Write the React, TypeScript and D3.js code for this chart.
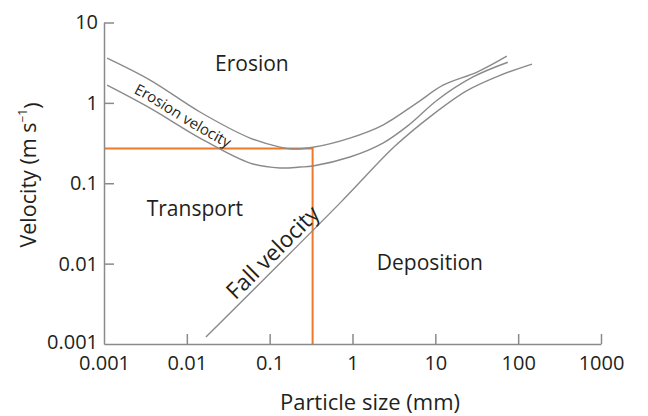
import React, { useEffect, useRef } from 'react';
import * as d3 from 'd3';

// particle size (mm) / velocity (m s-1)
const xTicks = [0.001, 0.01, 0.1, 1, 10, 100, 1000];
const xTickLabels = ['0.001', '0.01', '0.1', '1', '10', '100', '1000'];
const yTicks = [0.001, 0.01, 0.1, 1, 10];
const yTickLabels = ['0.001', '0.01', '0.1', '1', '10'];

const erosionUpper: [number, number][] = [
  [0.00109, 3.6], [0.0036, 1.92], [0.0144, 0.77], [0.058, 0.365], [0.133, 0.282],
  [0.2, 0.266], [0.333, 0.28], [0.93, 0.365], [2.33, 0.53], [6.0, 1.0],
  [12.4, 1.66], [31.9, 2.42], [73, 3.82],
];
const erosionLower: [number, number][] = [
  [0.00109, 1.66], [0.0036, 0.86], [0.0144, 0.365], [0.058, 0.178], [0.133, 0.155],
  [0.232, 0.159], [0.333, 0.164], [0.93, 0.212], [2.33, 0.316], [4.94, 0.545],
  [10.5, 1.08], [28.5, 2.1], [75, 3.2],
];
const fallVelocity: [number, number][] = [
  [0.017, 0.00122], [0.71, 0.057], [3.26, 0.29], [9.4, 0.72], [24.1, 1.42],
  [60.4, 2.2], [147, 3.04],
];
const criticalSize = 0.33;
const criticalVelocity = 0.27;

const W = 648, H = 416;
const FONT = '"Open Sans", "DejaVu Sans", sans-serif';
const INK = '#231f20';
const GREY = '#8a8a8a';
const ORANGE = '#ec7a2a';

function App() {
  const ref = useRef<SVGSVGElement | null>(null);

  useEffect(() => {
    const svg = d3.select(ref.current);
    svg.selectAll('*').remove();

    const x = d3.scaleLog().domain([0.001, 1000]).range([104, 601]);
    const y = d3.scaleLog().domain([0.001, 10]).range([344, 22.5]);

    const line = d3.line<[number, number]>()
      .x(d => x(d[0])).y(d => y(d[1]))
      .curve(d3.curveCatmullRom.alpha(0.5));

    // orange reading lines
    svg.append('path')
      .attr('d', `M${x(0.001)},${y(criticalVelocity)}H${x(criticalSize)}V${y(0.001)}`)
      .attr('fill', 'none').attr('stroke', ORANGE).attr('stroke-width', 2);

    // curves
    const curves = [
      { id: 'upper', data: erosionUpper },
      { id: 'lower', data: erosionLower },
      { id: 'fall', data: fallVelocity },
    ];
    curves.forEach(c => {
      svg.append('path')
        .attr('id', 'curve-' + c.id)
        .attr('d', line(c.data) as string)
        .attr('fill', 'none').attr('stroke', GREY).attr('stroke-width', 1.4);
    });

    // midline between the two erosion curves, used to set the label
    const mid: [number, number][] = erosionUpper.slice(0, 6).map((d, i) => [d[0], Math.sqrt(d[1] * erosionLower[i][1])]);
    svg.append('path').attr('id', 'erosion-mid').attr('d', line(mid) as string).attr('fill', 'none');

    svg.append('text')
      .style('font-family', FONT).style('font-size', '15px').attr('fill', INK)
      .attr('dy', '0.45em')
      .append('textPath').attr('href', '#erosion-mid').attr('startOffset', 33)
      .text('Erosion velocity');

    svg.append('text')
      .style('font-family', FONT).style('font-size', '22.5px').attr('fill', INK)
      .attr('dy', -5)
      .append('textPath').attr('href', '#curve-fall').attr('startOffset', 47)
      .text('Fall velocity');

    // axes
    const xAxis = svg.append('g')
      .attr('transform', `translate(0,${y(0.001)})`)
      .call(d3.axisBottom(x).tickValues(xTicks).tickSize(-10).tickSizeOuter(0).tickPadding(12)
        .tickFormat((d, i) => xTickLabels[i]));
    const yAxis = svg.append('g')
      .attr('transform', `translate(${x(0.001)},0)`)
      .call(d3.axisLeft(y).tickValues(yTicks).tickSize(-10).tickSizeOuter(0).tickPadding(6)
        .tickFormat((d, i) => yTickLabels[i]));

    [xAxis, yAxis].forEach(g => {
      g.select('.domain').attr('stroke', GREY).attr('stroke-width', 1.5);
      g.selectAll('.tick line').attr('stroke', GREY).attr('stroke-width', 1.5);
      g.selectAll('.tick text').attr('fill', INK)
        .style('font-family', FONT).style('font-size', '20px');
      g.selectAll('.tick').filter((d: any) => d === 0.001).select('line').remove();
    });
    yAxis.selectAll('.tick').filter((d: any) => d === 0.001).select('text').attr('dy', '0.2em');

    // region labels
    const regions = [
      { text: 'Erosion', at: [0.061, 3.1] },
      { text: 'Transport', at: [0.0125, 0.049] },
      { text: 'Deposition', at: [8.6, 0.0105] },
    ];
    regions.forEach(r => {
      svg.append('text')
        .attr('x', x(r.at[0])).attr('y', y(r.at[1]))
        .attr('text-anchor', 'middle').attr('dominant-baseline', 'central')
        .style('font-family', FONT).style('font-size', '21px').attr('fill', INK)
        .text(r.text);
    });

    // axis titles
    svg.append('text')
      .attr('x', 370).attr('y', 401)
      .attr('text-anchor', 'middle').attr('dominant-baseline', 'central')
      .style('font-family', FONT).style('font-size', '22px').attr('fill', INK)
      .text('Particle size (mm)');

    const yt = svg.append('text')
      .attr('transform', 'translate(27,175) rotate(-90)')
      .attr('text-anchor', 'middle').attr('dominant-baseline', 'central')
      .style('font-family', FONT).style('font-size', '21.5px').attr('fill', INK);
    yt.append('tspan').text('Velocity (m s');
    yt.append('tspan').attr('dy', '-0.45em').style('font-size', '12px').text('−1');
    yt.append('tspan').attr('dy', '0.45em').text(')');
  }, []);

  return (
    <svg ref={ref} width={W} height={H}
      style={{ position: 'absolute', left: 0, top: 0, background: '#fff' }} />
  );
}

export default App;
